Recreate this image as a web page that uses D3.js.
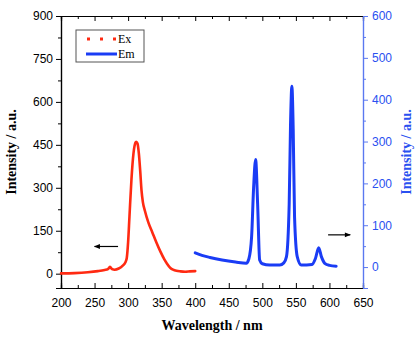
<!DOCTYPE html>
<html>
<head>
<meta charset="utf-8">
<script src="https://cdn.jsdelivr.net/npm/d3@7"></script>
<style>
  body { margin: 0; background: #fff; }
  svg { display: block; }
  .tick text { font-family: "Liberation Sans", Arial, sans-serif; font-size: 12px; }
</style>
</head>
<body>
<div id="graph"></div>
<script>
var w = 419, h = 338;
var margin = {top: 16, right: 56, bottom: 50, left: 61};

// excitation spectrum (left axis)
var exWave = [200, 220, 240, 255, 265, 270, 273, 276, 280, 286, 292, 296, 298, 300, 302, 305, 308, 311, 312, 314, 316, 318, 320, 322, 325, 330, 336, 342, 348, 354, 358, 363, 367, 372, 378, 385, 392, 400];
var exVal  = [1, 2, 5, 9, 13, 16, 24, 16, 14, 18, 28, 40, 55, 110, 199, 330, 420, 458, 461, 455, 420, 360, 290, 250, 220, 180, 145, 110, 78, 50, 35, 20, 14, 10, 8, 7, 8, 9];

// emission spectrum (right axis)
var emWave = [400, 410, 422, 440, 460, 476, 480, 484, 487, 490, 493, 496, 500, 511, 526, 532, 536, 540, 542, 544, 546, 548, 552, 558, 566, 574, 579, 584, 588, 593, 600, 610];
var emVal  = [34, 28, 23, 17, 12, 9, 20, 72, 190, 257, 150, 17, 8, 5, 5, 10, 25, 150, 340, 432, 330, 120, 25, 5, 5, 6, 20, 46, 25, 9, 4, 2];

var xTicks = [200, 250, 300, 350, 400, 450, 500, 550, 600, 650];
var yLeftTicks = [0, 150, 300, 450, 600, 750, 900];
var yRightTicks = [0, 100, 200, 300, 400, 500, 600];

var iw = w - margin.left - margin.right;
var ih = h - margin.top - margin.bottom;

var svg = d3.select("#graph").append("svg")
  .attr("width", w).attr("height", h)
  .append("g")
  .attr("transform", "translate(" + margin.left + "," + margin.top + ")");

var x = d3.scaleLinear().domain([200, 650]).range([0, iw]);
var yL = d3.scaleLinear().domain([-50, 900]).range([ih, 0]);
var yR = d3.scaleLinear().domain([-50, 600]).range([ih, 0]);

var blue = "#1a3cf5", red = "#ff2a12", axisBlue = "#5a78f0";

function styleAxis(g, color) {
  g.select(".domain").attr("stroke", color).attr("stroke-width", 1.2);
  g.selectAll(".tick line").attr("stroke", color);
  g.selectAll(".tick text").attr("fill", color);
}

// minor ticks
svg.append("g").call(d3.axisBottom(x).tickValues(d3.range(225, 650, 50)).tickSize(-3).tickFormat(""))
  .attr("transform", "translate(0," + ih + ")").call(styleAxis, "#000");
svg.append("g").call(d3.axisTop(x).tickValues(d3.range(225, 650, 50)).tickSize(-3).tickFormat(""))
  .call(styleAxis, "#000");
svg.append("g").call(d3.axisLeft(yL).tickValues(d3.range(75, 900, 150)).tickSize(3).tickFormat(""))
  .call(styleAxis, "#000");
svg.append("g").attr("transform", "translate(" + iw + ",0)")
  .call(d3.axisRight(yR).tickValues(d3.range(50, 600, 100)).tickSize(3).tickFormat(""))
  .call(styleAxis, axisBlue);

// major ticks
svg.append("g").attr("transform", "translate(0," + ih + ")")
  .call(d3.axisBottom(x).tickValues(xTicks).tickSize(-5).tickPadding(10).tickFormat(d3.format("d")))
  .call(styleAxis, "#000");
svg.append("g")
  .call(d3.axisTop(x).tickValues(xTicks).tickSize(-5).tickFormat(""))
  .call(styleAxis, "#000");
svg.append("g")
  .call(d3.axisLeft(yL).tickValues(yLeftTicks).tickSize(5).tickPadding(3))
  .call(styleAxis, "#000");
var rAx = svg.append("g").attr("transform", "translate(" + iw + ",0)")
  .call(d3.axisRight(yR).tickValues(yRightTicks).tickSize(5).tickPadding(4))
  .call(styleAxis, axisBlue);
rAx.selectAll(".tick text").attr("fill", "#2a50f0");

// curves
var exLine = d3.line().x(function(d, i) { return x(exWave[i]); })
  .y(function(d) { return yL(d); }).curve(d3.curveMonotoneX);
var emLine = d3.line().x(function(d, i) { return x(emWave[i]); })
  .y(function(d) { return yR(d); }).curve(d3.curveMonotoneX);

svg.append("path").attr("d", exLine(exVal))
  .attr("fill", "none").attr("stroke", red).attr("stroke-width", 2.6)
  .attr("stroke-linejoin", "round").attr("stroke-linecap", "round");
svg.append("path").attr("d", emLine(emVal))
  .attr("fill", "none").attr("stroke", blue).attr("stroke-width", 3)
  .attr("stroke-linejoin", "round").attr("stroke-linecap", "round");

// arrows
svg.append("defs").append("marker").attr("id", "ah")
  .attr("viewBox", "0 0 10 10").attr("refX", 9).attr("refY", 5)
  .attr("markerWidth", 7).attr("markerHeight", 5).attr("orient", "auto")
  .append("path").attr("d", "M0,1 L10,5 L0,9 Z").attr("fill", "#000");
svg.append("line").attr("x1", x(285)).attr("x2", x(250)).attr("y1", yL(95)).attr("y2", yL(95))
  .attr("stroke", "#000").attr("stroke-width", 1.2).attr("marker-end", "url(#ah)");
svg.append("line").attr("x1", x(598)).attr("x2", x(631)).attr("y1", yR(77)).attr("y2", yR(77))
  .attr("stroke", "#000").attr("stroke-width", 1.2).attr("marker-end", "url(#ah)");

// legend
var leg = svg.append("g").attr("transform", "translate(15,14)");
leg.append("rect").attr("width", 68).attr("height", 32)
  .attr("fill", "#fff").attr("stroke", "#555").attr("stroke-width", 1);
leg.append("line").attr("x1", 11).attr("x2", 40).attr("y1", 9).attr("y2", 9)
  .attr("stroke", red).attr("stroke-width", 3).attr("stroke-dasharray", "3,10");
leg.append("line").attr("x1", 10).attr("x2", 41).attr("y1", 24).attr("y2", 24)
  .attr("stroke", blue).attr("stroke-width", 3);
leg.selectAll("text.lab").data(["Ex", "Em"]).enter().append("text")
  .attr("x", 42).attr("y", function(d, i) { return 13 + i * 14.5; })
  .attr("font-family", "Liberation Serif, Times New Roman, serif").attr("font-size", 12)
  .text(function(d) { return d; });

// axis titles
svg.append("text").attr("x", iw / 2).attr("y", ih + 42).attr("text-anchor", "middle")
  .attr("font-family", "Liberation Serif, serif").attr("font-weight", "bold").attr("font-size", 14)
  .text("Wavelength / nm");
svg.append("text").attr("transform", "translate(" + (-45) + "," + (ih / 2) + ") rotate(-90)")
  .attr("text-anchor", "middle")
  .attr("font-family", "Liberation Serif, serif").attr("font-weight", "bold").attr("font-size", 14)
  .text("Intensity / a.u.");
svg.append("text").attr("transform", "translate(" + (iw + 48) + "," + (ih / 2) + ") rotate(-90)")
  .attr("text-anchor", "middle").attr("fill", "#2a50f0")
  .attr("font-family", "Liberation Serif, serif").attr("font-weight", "bold").attr("font-size", 14)
  .text("Intensity / a.u.");
</script>
</body>
</html>
